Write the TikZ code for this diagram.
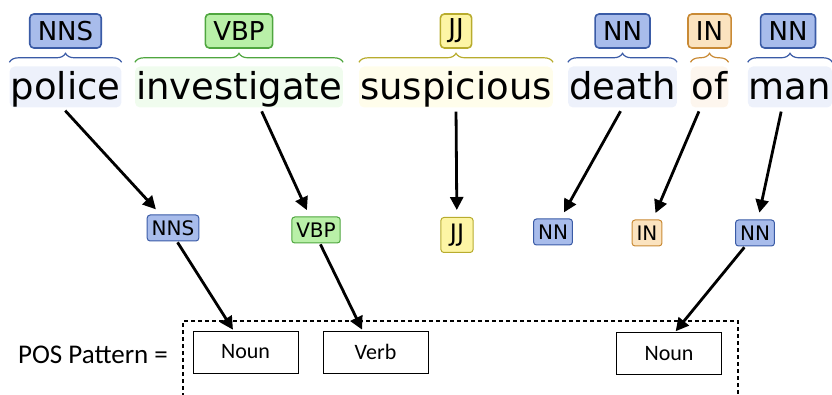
\documentclass[tikz,border=0pt]{standalone}
\usepackage{fontspec}
\setmainfont{DejaVu Sans}
\newfontfamily\calfont{Carlito}
\usepackage{tikz}
\usetikzlibrary{positioning,arrows.meta,decorations.pathreplacing}

\definecolor{nnfill}{HTML}{A8BCEB}
\definecolor{nnline}{HTML}{3A5BA6}
\definecolor{nnbg}{HTML}{EDF1FB}
\definecolor{vbfill}{HTML}{B9F0A8}
\definecolor{vbline}{HTML}{4FA63F}
\definecolor{vbbg}{HTML}{F0FCEE}
\definecolor{jjfill}{HTML}{FDF5A5}
\definecolor{jjline}{HTML}{B8AC2E}
\definecolor{jjbg}{HTML}{FFFDEB}
\definecolor{infill}{HTML}{FBE3BF}
\definecolor{inline}{HTML}{C98A35}
\definecolor{inbg}{HTML}{FDF6EE}

\begin{document}
\begin{tikzpicture}[x=1pt,y=-1pt,
            word/.style={rounded corners=5pt, inner xsep=1pt, inner ysep=1.5pt, text height=32pt, text depth=6pt, anchor=base, font=\fontsize{37}{40}\selectfont},
            toptag/.style={draw, line width=1.6pt, rounded corners=4pt, inner xsep=8pt, inner ysep=0pt, minimum height=34pt, font=\fontsize{26}{28}\selectfont},
            midtag/.style={draw, line width=1pt, rounded corners=3pt, inner xsep=4.5pt, inner ysep=0pt, minimum height=26pt, font=\fontsize{20}{22}\selectfont},
            brace/.style={decorate, decoration={brace, amplitude=9pt}, line width=1.2pt},
            link/.style={-{Triangle[length=13pt,width=13pt]}, line width=2.8pt, shorten <=4pt, shorten >=7pt},
            patbox/.style={draw, line width=0.9pt, minimum width=105pt, minimum height=42pt, font=\calfont\fontsize{22}{24}\selectfont}
        ]
        \useasboundingbox (0,0) rectangle (832,395);

        \node[word, fill=nnbg] (wPolice) at (65.5,100) {police};
        \node[word, fill=vbbg] (wInvest) at (239,100) {investigate};
        \node[word, fill=jjbg] (wSusp) at (456,100) {suspicious};
        \node[word, fill=nnbg] (wDeath) at (622.5,100) {death};
        \node[word, fill=inbg] (wOf) at (709.5,100) {of};
        \node[word, fill=nnbg] (wMan) at (790,100) {man};

        \draw[brace, nnline] ([yshift=4pt]wPolice.north west) -- ([yshift=4pt]wPolice.north east);
        \draw[brace, vbline] ([yshift=4pt]wInvest.north west) -- ([yshift=4pt]wInvest.north east);
        \draw[brace, jjline] ([yshift=4pt]wSusp.north west) -- ([yshift=4pt]wSusp.north east);
        \draw[brace, nnline] ([yshift=4pt]wDeath.north west) -- ([yshift=4pt]wDeath.north east);
        \draw[brace, inline] ([yshift=4pt]wOf.north west) -- ([yshift=4pt]wOf.north east);
        \draw[brace, nnline] ([yshift=4pt]wMan.north west) -- ([yshift=4pt]wMan.north east);

        \node[toptag, draw=nnline, fill=nnfill] (tNNS) at (65.5,31) {NNS};
        \node[toptag, draw=vbline, fill=vbfill] (tVBP) at (239,31) {VBP};
        \node[toptag, draw=jjline, fill=jjfill] (tJJ) at (456,31) {JJ};
        \node[toptag, draw=nnline, fill=nnfill] (tNN) at (622.5,31) {NN};
        \node[toptag, draw=inline, fill=infill] (tIN) at (709.5,31) {IN};
        \node[toptag, draw=nnline, fill=nnfill] (tNNb) at (788,31) {NN};

        \node[midtag, draw=nnline, fill=nnfill] (mNNS) at (173,228) {NNS};
        \node[midtag, draw=vbline, fill=vbfill] (mVBP) at (316,230) {VBP};
        \node[midtag, draw=jjline, fill=jjfill, minimum height=35pt, inner xsep=9pt, font=\fontsize{24}{26}\selectfont] (mJJ) at (457,235) {JJ};
        \node[midtag, draw=nnline, fill=nnfill] (mNN) at (553,232) {NN};
        \node[midtag, draw=inline, fill=infill] (mIN) at (647,233) {IN};
        \node[midtag, draw=nnline, fill=nnfill] (mNNb) at (755,233) {NN};

        \draw[link] ([xshift=-3pt]wPolice.south) -- (mNNS);
        \draw[link] ([xshift=21pt]wInvest.south) -- (mVBP);
        \draw[link] (wSusp.south) -- (mJJ);
        \draw[link] (wDeath.south) -- (mNN);
        \draw[link] ([xshift=-9pt]wOf.south) -- (mIN);
        \draw[link] ([xshift=-8pt]wMan.south) -- (mNNb);

        \node[font=\calfont\fontsize{27}{30}\selectfont] (posLabel) at (93,355) {POS Pattern =};
        \draw[dashed, line width=1.4pt, dash pattern=on 4pt off 3pt] (183,397) -- (183,321) -- (738,321) -- (738,397);
        \node[patbox] (pNoun) at (245.5,352) {Noun};
        \node[patbox] (pVerb) at (375.5,352) {Verb};
        \node[patbox] (pNounb) at (669,353.5) {Noun};

        \draw[link, shorten <=1pt, shorten >=1pt] ([xshift=4pt]mNNS.south) -- ([xshift=-12pt]pNoun.north);
        \draw[link, shorten <=1pt, shorten >=1pt] ([xshift=4pt]mVBP.south) -- ([xshift=-13pt]pVerb.north);
        \draw[link, shorten <=1pt, shorten >=1pt] ([xshift=-10pt]mNNb.south) -- ([xshift=6pt]pNounb.north);

    \end{tikzpicture}
\end{document}
